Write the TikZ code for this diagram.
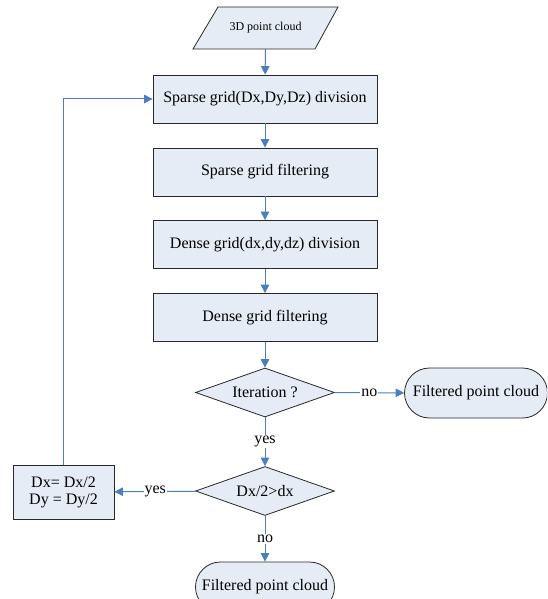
\documentclass[tikz,border=0pt]{standalone}
\usepackage{fontspec}
\setmainfont{Liberation Serif}
\usetikzlibrary{shapes.geometric,arrows.meta}
\definecolor{boxfill}{RGB}{230,236,246}
\definecolor{boxline}{RGB}{40,40,40}
\definecolor{arrowblue}{RGB}{74,126,193}
\begin{document}
\begin{tikzpicture}[x=1pt,y=-1pt,
  every node/.style={font=\fontsize{16}{18}\selectfont},
  shapeline/.style={draw=boxline,fill=boxfill,line width=0.8pt},
  procbox/.style={shapeline,rectangle,minimum width=224pt,minimum height=48pt,inner sep=0pt},
  decide/.style={shapeline,diamond,aspect=2.8,minimum width=139pt,minimum height=49pt,inner sep=0pt},
  term/.style={shapeline,rectangle,rounded corners=25pt,minimum width=143pt,minimum height=50pt,inner sep=0pt},
  iotext/.style={rectangle,minimum width=100pt,minimum height=42pt,inner sep=0pt,font=\fontsize{12}{14}\selectfont},
  flow/.style={draw=arrowblue,line width=1pt,-{Triangle[width=8.5pt,length=8.5pt]}},
  lbl/.style={fill=white,inner sep=1pt,font=\fontsize{16}{18}\selectfont}]
\clip (0,0) rectangle (547,599);
\fill[white] (0,0) rectangle (547,599);
\path[shapeline] (193,49) -- (218,7) -- (338,7) -- (315,49) -- cycle;
\node[iotext] (in) at (265.5,28) {3D point cloud};
\node[procbox] (b1) at (265,99) {Sparse grid(Dx,Dy,Dz) division};
\node[procbox] (b2) at (265,172) {Sparse grid filtering};
\node[procbox] (b3) at (265,244.5) {Dense grid(dx,dy,dz) division};
\node[procbox] (b4) at (265,317.5) {Dense grid filtering};
\node[decide] (d1) at (265,392.5) {Iteration ?};
\node[term] (t1) at (476,393) {Filtered point cloud};
\node[decide] (d2) at (265,491) {Dx/2>dx};
\node[procbox,minimum width=101pt,minimum height=54pt,align=center] (upd) at (63.5,492) {Dx= Dx/2\\[-1pt]Dy = Dy/2};
\node[term,minimum width=139pt] (t2) at (265,587) {Filtered point cloud};
\draw[flow] (in) -- (b1);
\draw[flow] (b1) -- (b2);
\draw[flow] (b2) -- (b3);
\draw[flow] (b3) -- (b4);
\draw[flow] (b4) -- (d1);
\draw[flow] (d1) -- node[lbl] {no} (t1);
\draw[flow] (d1) -- node[lbl] {yes} (d2);
\draw[flow] (d2) -- node[lbl] {yes} (upd);
\draw[flow] (d2) -- node[lbl] {no} (t2);
\draw[flow] (upd.north) |- (b1.west);
\end{tikzpicture}
\end{document}
